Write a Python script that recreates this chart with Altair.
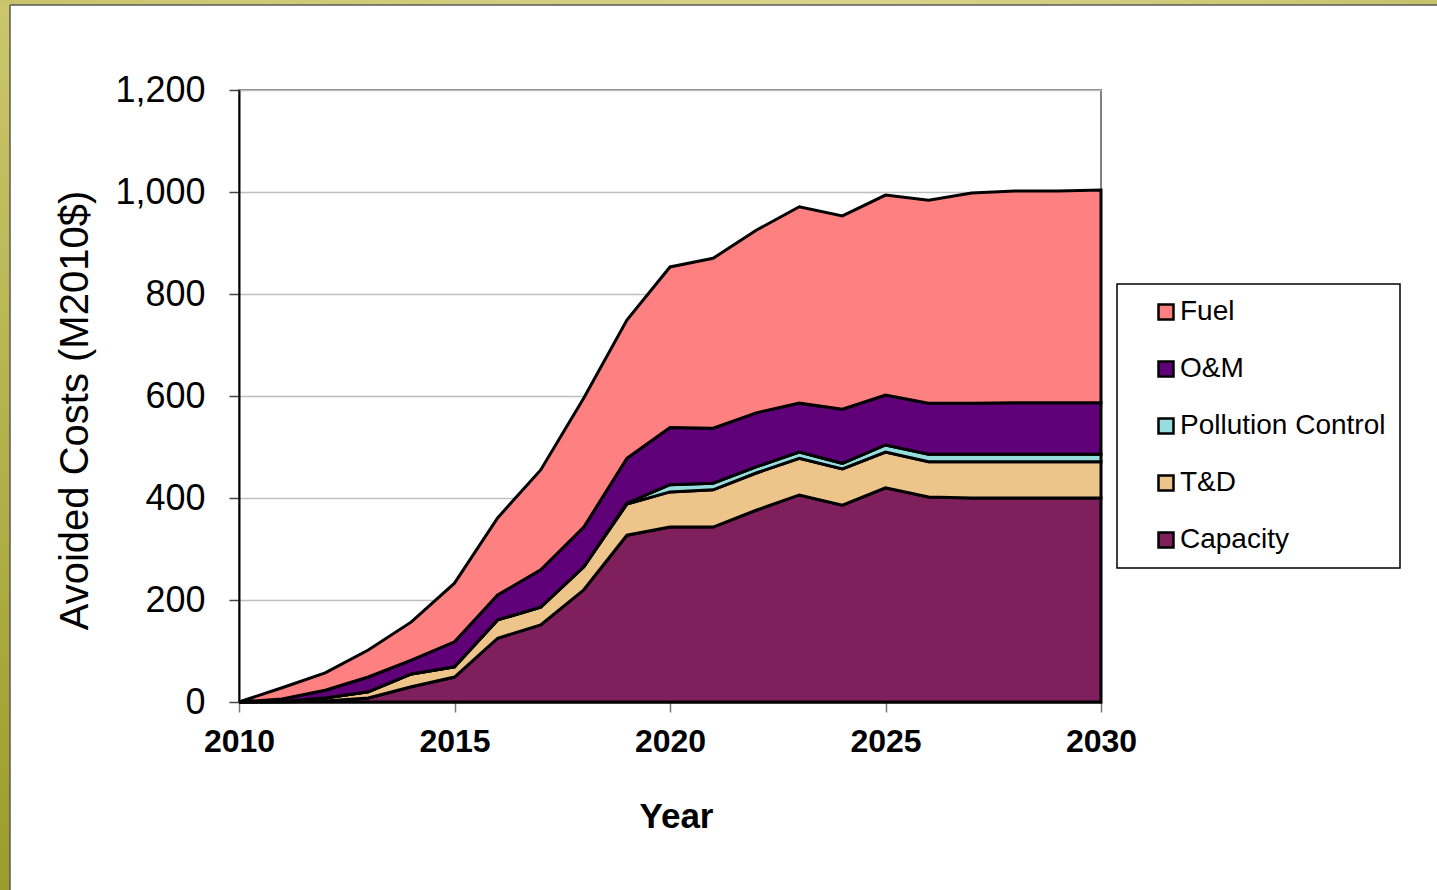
import altair as alt
import pandas as pd

# Avoided costs by component, M2010$
years = list(range(2010, 2031))
capacity = [0, 0, 2, 8, 30, 49, 125, 151, 220, 327, 343, 343, 376, 406, 386, 420, 402, 400, 400, 400, 400]
t_and_d = [0, 1, 6, 12, 25, 20, 36, 35, 45, 61, 69, 73, 73, 72, 71, 70, 69, 71, 71, 71, 71]
pollution_control = [0, 0, 0, 0, 0, 0, 0, 0, 0, 2, 14, 13, 12, 12, 11, 14, 15, 15, 15, 15, 15]
o_and_m = [0, 5, 15, 29, 27, 49, 49, 73, 78, 88, 112, 108, 106, 96, 106, 98, 100, 100, 101, 101, 101]
fuel = [0, 22, 34, 53, 75, 115, 151, 196, 253, 271, 315, 333, 358, 385, 379, 392, 398, 412, 415, 415, 417]

# stacking order, bottom to top
series_names = ["Capacity", "T&D", "Pollution Control", "O&M", "Fuel"]
series_values = [capacity, t_and_d, pollution_control, o_and_m, fuel]

legend_order = ["Fuel", "O&M", "Pollution Control", "T&D", "Capacity"]
legend_colors = ["#FF8080", "#5F0078", "#96DEDE", "#EDC48A", "#7F1F5B"]

y_ticks = [0, 200, 400, 600, 800, 1000, 1200]
x_ticks = [2010, 2015, 2020, 2025, 2030]

FONT = "Liberation Sans"

rows = []
for rank, (name, values) in enumerate(zip(series_names, series_values)):
    for year, v in zip(years, values):
        rows.append({"Year": year, "Series": name, "Cost": v, "Stack": rank})
df = pd.DataFrame(rows)

areas = alt.Chart(df).mark_area(
    stroke="black", strokeWidth=3, strokeJoin="miter", fillOpacity=1
).encode(
    x=alt.X(
        "Year:Q",
        scale=alt.Scale(domain=[2010, 2030], nice=False, zero=False),
        axis=alt.Axis(
            values=x_ticks, format="d", grid=False,
            domainColor="black", domainWidth=2,
            tickColor="#777777", tickSize=10, tickWidth=1.5,
            labelFont=FONT, labelFontSize=32, labelFontWeight="bold",
            labelColor="black", labelPadding=14, labelFlush=False,
            title="Year", titleFont=FONT, titleFontSize=35,
            titleFontWeight="bold", titleColor="black",
            titleX=437, titleY=97, titleBaseline="top",
        ),
    ),
    y=alt.Y(
        "Cost:Q",
        stack="zero",
        scale=alt.Scale(domain=[0, 1200], nice=False),
        axis=alt.Axis(
            values=y_ticks, format=",d",
            domainColor="black", domainWidth=2,
            tickColor="#444444", tickSize=10, tickWidth=1.5,
            gridColor="#BFBFBF", gridWidth=1.5,
            labelFont=FONT, labelFontSize=36, labelColor="black",
            labelPadding=24,
            title="Avoided Costs (M2010$)", titleFont=FONT,
            titleFontSize=40, titleFontWeight="normal", titleColor="black",
            titleX=-144, titleY=320, titleBaseline="bottom", titleAngle=270,
        ),
    ),
    color=alt.Color(
        "Series:N",
        scale=alt.Scale(domain=legend_order, range=legend_colors),
        legend=alt.Legend(
            title=None, orient="none", legendX=878, legendY=194,
            fillColor="white", strokeColor="black",
            padding=14, cornerRadius=0,
            symbolType="square", symbolSize=225, symbolOffset=21,
            symbolStrokeColor="black", symbolStrokeWidth=2.5, symbolOpacity=1,
            labelFont=FONT, labelFontSize=28, labelColor="black",
            labelLimit=400, labelOffset=0, rowPadding=29,
        ),
    ),
    order=alt.Order("Stack:Q", sort="ascending"),
)

# slide frame: olive strips along the left and top edges
frame_df = pd.DataFrame({"k": [0]})
left_strip = alt.Chart(frame_df).mark_rect(
    color=alt.LinearGradient(
        gradient="linear", x1=0, x2=0, y1=0, y2=1,
        stops=[alt.GradientStop(color="#CBC66C", offset=0),
               alt.GradientStop(color="#9C9C2A", offset=1)],
    )
).encode(x=alt.value(-239), x2=alt.value(-229), y=alt.value(-90), y2=alt.value(800))
top_strip = alt.Chart(frame_df).mark_rect(
    color=alt.LinearGradient(
        gradient="linear", x1=0, x2=1, y1=0, y2=0,
        stops=[alt.GradientStop(color="#C9C46A", offset=0),
               alt.GradientStop(color="#D8D48A", offset=0.6),
               alt.GradientStop(color="#C6C26A", offset=1)],
    )
).encode(x=alt.value(-239), x2=alt.value(1198), y=alt.value(-90), y2=alt.value(-85))
frame_lines = alt.Chart(frame_df).mark_rule(color="#5A5A5A", strokeWidth=1.5).encode(
    x=alt.value(-229), x2=alt.value(-229), y=alt.value(-85), y2=alt.value(800)
)
frame_top_line = alt.Chart(frame_df).mark_rule(color="#5A5A5A", strokeWidth=1.5).encode(
    x=alt.value(-229), x2=alt.value(1198), y=alt.value(-85), y2=alt.value(-85)
)

chart = alt.layer(left_strip, top_strip, frame_lines, frame_top_line, areas).properties(
    width=862,
    height=612,
    autosize=alt.AutoSizeParams(type="none"),
    padding={"left": 239, "top": 90, "right": 336, "bottom": 188},
    background="white",
).configure_view(
    stroke="#808080", strokeWidth=2
).configure_legend(
    strokeWidth=1.5
)

chart.save("out.html", embed_options={"renderer": "svg", "actions": False})
